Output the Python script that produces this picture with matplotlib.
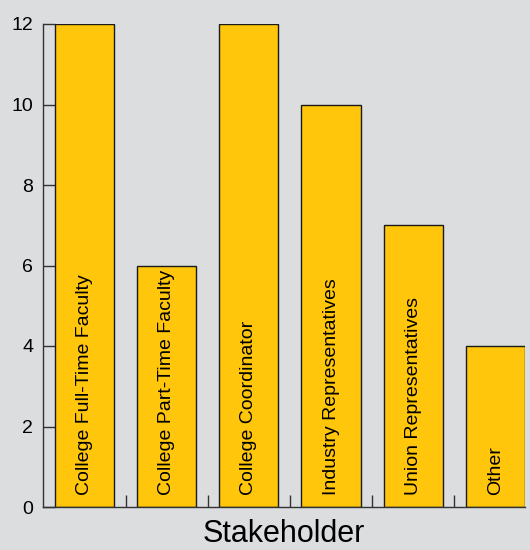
import matplotlib
matplotlib.use("Agg")
import matplotlib.pyplot as plt
import numpy as np

stakeholders = [
    "College Full-Time Faculty",
    "College Part-Time Faculty",
    "College Coordinator",
    "Industry Representatives",
    "Union Representatives",
    "Other",
]
counts = [12, 6, 12, 10, 7, 4]
yticks = [0, 2, 4, 6, 8, 10, 12]

bg = "#dcdddf"
bar_color = "#ffc60b"
plt.rcParams["font.family"] = ["Liberation Sans", "DejaVu Sans"]

fig = plt.figure(figsize=(5.3, 5.5), dpi=100, facecolor=bg)
ax = fig.add_axes([43 / 530, 1 - 507 / 550, (525 - 43) / 530, (507 - 24) / 550])
ax.set_facecolor(bg)

x = np.arange(len(stakeholders))
ax.bar(x, counts, width=0.72, color=bar_color, edgecolor="#1a1a1a", linewidth=1.0, zorder=2)

# category names sit inside the bars, reading bottom-to-top
for xi, label in zip(x, stakeholders):
    ax.text(xi, 0.3, label, rotation=90, ha="center", va="bottom",
            fontsize=14, color="black", zorder=3)

ax.set_xlim(-0.505, 5.36)
ax.set_ylim(0, 12)
ax.set_yticks(yticks)
ax.set_xticks(x[:-1] + 0.5)
ax.set_xticklabels([])
ax.tick_params(axis="both", direction="in", length=8.5, width=1.0, colors="#333333",
               labelsize=14, labelcolor="black")
ax.tick_params(axis="y", pad=7)
for side in ("top", "right"):
    ax.spines[side].set_visible(False)
for side in ("left", "bottom"):
    ax.spines[side].set_color("#333333")
    ax.spines[side].set_linewidth(1.0)

ax.set_xlabel("Stakeholder", fontsize=22)
ax.xaxis.label.set_va("baseline")
ax.xaxis.set_label_coords(0.5, -0.072)

fig.savefig("out.png", dpi=100, facecolor=bg)
